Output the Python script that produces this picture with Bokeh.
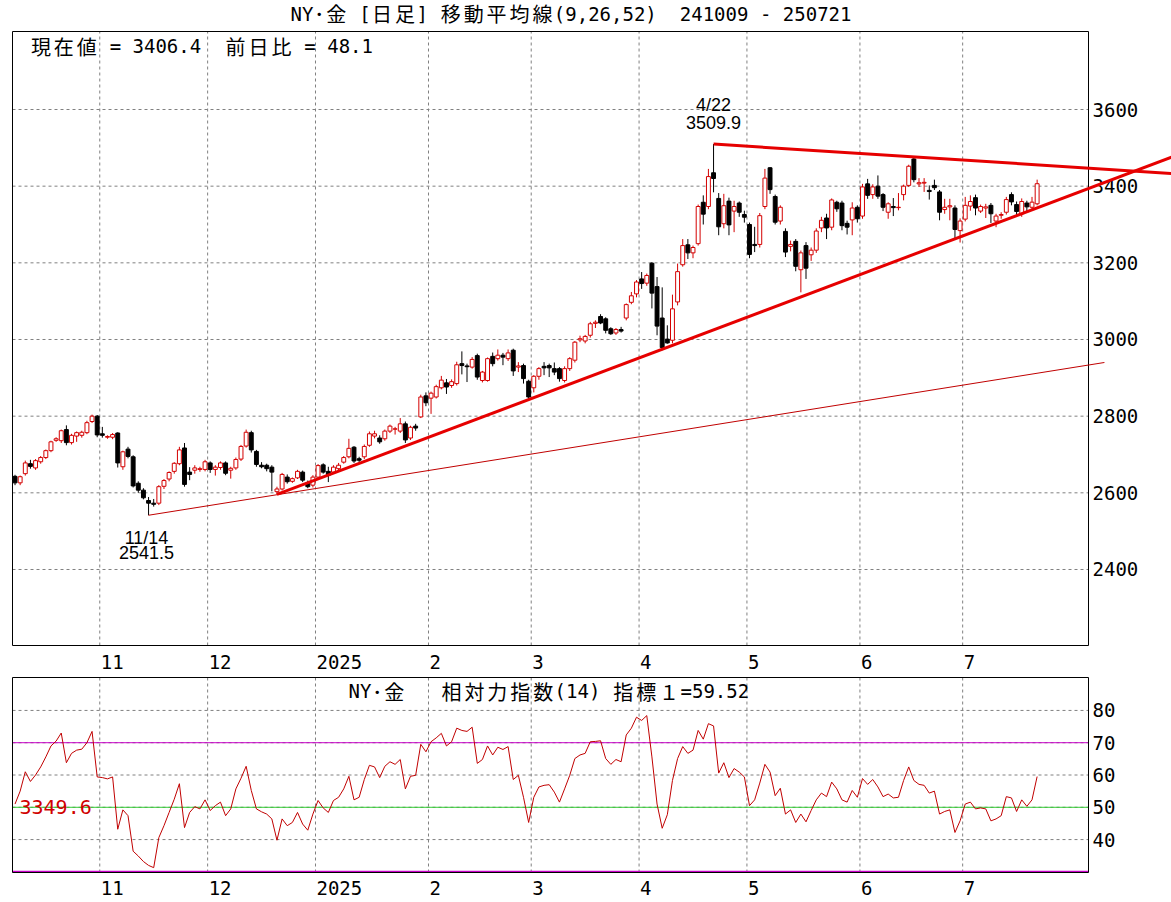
import pandas as pd
from bokeh.plotting import figure
from bokeh.layouts import column
from bokeh.models import Range1d, FixedTicker, Label, ColumnDataSource
from bokeh.core.properties import value
from bokeh.embed import file_html
from bokeh.resources import INLINE

# ---------------- data ----------------
START, END = "2024-10-09", "2025-07-21"
HOLIDAYS = ["2024-12-25", "2025-01-01", "2025-04-18", "2025-06-19"]

opens = [
    2643, 2626, 2650, 2676, 2665, 2681, 2692, 2710, 2737, 2736,
    2765, 2731, 2748, 2750, 2757, 2786, 2800, 2754, 2745, 2745,
    2756, 2668, 2714, 2694, 2625, 2607, 2580, 2573, 2573, 2617,
    2636, 2656, 2676, 2717, 2654, 2659, 2661, 2661, 2678, 2661,
    2666, 2678, 2659, 2665, 2688, 2722, 2757, 2708, 2672, 2672,
    2667, 2603, 2610, 2641, 2630, 2639, 2654, 2626, 2620, 2641,
    2673, 2656, 2654, 2663, 2680, 2694, 2719, 2689, 2694, 2724,
    2748, 2743, 2741, 2761, 2766, 2761, 2780, 2743, 2774, 2798,
    2853, 2847, 2850, 2874, 2887, 2880, 2885, 2937, 2931, 2928,
    2958, 2893, 2893, 2956, 2950, 2959, 2950, 2972, 2928, 2932,
    2891, 2874, 2904, 2930, 2932, 2924, 2924, 2893, 2924, 2946,
    2999, 2996, 3011, 3042, 3060, 3054, 3028, 3017, 3026, 3056,
    3097, 3119, 3158, 3147, 3199, 3138, 3056, 3001, 2998, 3098,
    3195, 3247, 3226, 3250, 3358, 3347, 3435, 3368, 3302, 3361,
    3335, 3356, 3326, 3300, 3248, 3248, 3347, 3448, 3373, 3309,
    3282, 3243, 3256, 3182, 3245, 3221, 3233, 3291, 3317, 3293,
    3358, 3356, 3303, 3312, 3345, 3322, 3406, 3378, 3400, 3378,
    3332, 3347, 3344, 3378, 3402, 3471, 3406, 3408, 3389, 3402,
    3385, 3339, 3346, 3343, 3284, 3314, 3348, 3370, 3335, 3343,
    3350, 3309, 3324, 3332, 3378, 3352, 3328, 3356, 3345, 3354,
]
highs = [
    2647, 2645, 2684, 2686, 2688, 2696, 2713, 2736, 2745, 2765,
    2776, 2754, 2760, 2762, 2788, 2804, 2803, 2772, 2750, 2756,
    2758, 2710, 2720, 2698, 2630, 2612, 2589, 2584, 2620, 2636,
    2656, 2680, 2720, 2730, 2667, 2672, 2668, 2686, 2682, 2672,
    2682, 2682, 2668, 2692, 2725, 2765, 2762, 2712, 2680, 2676,
    2672, 2616, 2652, 2648, 2640, 2660, 2658, 2632, 2646, 2675,
    2677, 2668, 2672, 2678, 2696, 2741, 2722, 2694, 2726, 2760,
    2762, 2750, 2765, 2778, 2772, 2795, 2786, 2775, 2780, 2856,
    2862, 2864, 2882, 2905, 2897, 2896, 2942, 2969, 2937, 2954,
    2963, 2918, 2953, 2966, 2974, 2965, 2974, 2976, 2941, 2937,
    2895, 2907, 2928, 2941, 2937, 2940, 2928, 2930, 2954, 2996,
    3010, 3012, 3046, 3050, 3066, 3058, 3032, 3030, 3033, 3094,
    3124, 3155, 3176, 3172, 3202, 3163, 3136, 3037, 3117, 3198,
    3262, 3262, 3245, 3352, 3376, 3445, 3509.9, 3382, 3380, 3370,
    3362, 3360, 3336, 3305, 3294, 3330, 3445, 3450, 3378, 3350,
    3290, 3258, 3262, 3232, 3254, 3240, 3290, 3320, 3328, 3368,
    3362, 3362, 3310, 3358, 3350, 3406, 3419, 3405, 3428, 3382,
    3358, 3369, 3382, 3404, 3456, 3476, 3421, 3421, 3402, 3417,
    3390, 3367, 3367, 3350, 3316, 3372, 3376, 3378, 3352, 3354,
    3356, 3328, 3332, 3372, 3384, 3360, 3368, 3362, 3372, 3417,
]
lows = [
    2620, 2620, 2645, 2663, 2660, 2676, 2688, 2706, 2733, 2730,
    2724, 2726, 2733, 2744, 2753, 2782, 2745, 2744, 2741, 2740,
    2666, 2660, 2690, 2614, 2600, 2583, 2541.5, 2564, 2568, 2610,
    2630, 2650, 2672, 2616, 2633, 2650, 2655, 2656, 2652, 2645,
    2660, 2646, 2637, 2660, 2683, 2718, 2705, 2668, 2664, 2656,
    2604, 2596, 2606, 2624, 2626, 2636, 2628, 2612, 2614, 2636,
    2650, 2628, 2650, 2658, 2676, 2690, 2678, 2680, 2688, 2720,
    2742, 2728, 2736, 2756, 2752, 2756, 2730, 2738, 2762, 2795,
    2826, 2806, 2846, 2870, 2858, 2874, 2880, 2909, 2889, 2924,
    2895, 2888, 2890, 2930, 2945, 2933, 2944, 2905, 2915, 2885,
    2844, 2862, 2895, 2907, 2902, 2907, 2890, 2888, 2918, 2940,
    2993, 2990, 3005, 3030, 3040, 3016, 3012, 3012, 3018, 3050,
    3092, 3110, 3132, 3140, 3081, 3011, 2972, 2989, 2990, 3089,
    3190, 3210, 3212, 3245, 3300, 3340, 3384, 3272, 3290, 3272,
    3280, 3320, 3305, 3212, 3228, 3240, 3340, 3380, 3300, 3300,
    3215, 3230, 3178, 3123, 3158, 3205, 3226, 3280, 3262, 3285,
    3333, 3285, 3274, 3272, 3305, 3315, 3367, 3367, 3367, 3335,
    3315, 3322, 3337, 3363, 3398, 3410, 3398, 3385, 3365, 3390,
    3311, 3328, 3311, 3263, 3253, 3308, 3336, 3324, 3330, 3317,
    3304, 3293, 3315, 3326, 3350, 3324, 3320, 3330, 3338, 3350,
]
closes = [
    2626, 2642, 2678, 2669, 2684, 2692, 2710, 2733, 2741, 2762,
    2731, 2750, 2757, 2758, 2783, 2800, 2751, 2750, 2747, 2752,
    2678, 2707, 2695, 2618, 2607, 2587, 2573, 2570, 2616, 2632,
    2653, 2677, 2712, 2622, 2648, 2665, 2663, 2681, 2661, 2667,
    2678, 2651, 2664, 2687, 2721, 2758, 2712, 2674, 2668, 2663,
    2654, 2610, 2648, 2629, 2637, 2656, 2633, 2616, 2641, 2671,
    2654, 2646, 2667, 2672, 2692, 2716, 2683, 2685, 2721, 2754,
    2754, 2733, 2761, 2774, 2767, 2780, 2738, 2771, 2769, 2850,
    2835, 2860, 2877, 2894, 2876, 2890, 2934, 2932, 2929, 2948,
    2902, 2915, 2950, 2937, 2959, 2954, 2965, 2918, 2931, 2898,
    2850, 2904, 2924, 2926, 2926, 2915, 2898, 2924, 2950, 2993,
    3002, 3008, 3041, 3045, 3043, 3024, 3015, 3026, 3022, 3091,
    3114, 3150, 3146, 3167, 3121, 3035, 2979, 2991, 3080, 3177,
    3245, 3226, 3240, 3347, 3327, 3425, 3420, 3294, 3349, 3299,
    3347, 3332, 3319, 3222, 3245, 3323, 3421, 3391, 3306, 3345,
    3228, 3248, 3191, 3226, 3186, 3233, 3283, 3311, 3291, 3364,
    3341, 3297, 3293, 3343, 3315, 3398, 3376, 3398, 3374, 3345,
    3354, 3344, 3345, 3400, 3452, 3417, 3409, 3410, 3386, 3396,
    3332, 3345, 3349, 3287, 3309, 3350, 3360, 3343, 3347, 3346,
    3328, 3322, 3326, 3365, 3359, 3334, 3360, 3346, 3358.3, 3406.4,
]
rsi = [
    51.0, 55.0, 61.0, 58.0, 60.0, 62.5, 65.6, 69.0, 70.5, 73.0,
    63.8, 66.7, 67.7, 68.0, 70.0, 73.5, 59.4, 59.2, 58.8, 59.4,
    43.2, 49.2, 47.4, 36.4, 34.9, 33.2, 32.0, 31.3, 40.6, 44.3,
    48.4, 52.5, 57.3, 43.7, 48.4, 50.2, 49.5, 52.3, 49.0, 50.5,
    51.6, 47.4, 49.5, 55.7, 59.0, 62.7, 55.2, 49.5, 48.6, 47.9,
    46.4, 39.8, 46.4, 44.3, 45.3, 48.4, 44.8, 42.9, 47.9, 52.1,
    49.8, 48.4, 52.1, 53.1, 55.7, 59.6, 52.3, 53.1, 58.6, 63.0,
    62.5, 59.2, 62.7, 64.1, 63.3, 64.8, 55.7, 59.6, 59.9, 69.5,
    67.2, 70.3, 71.5, 72.9, 69.0, 70.3, 74.5, 73.8, 73.5, 74.8,
    63.6, 64.8, 69.0, 66.2, 68.6, 67.9, 68.8, 58.6, 59.9, 53.1,
    45.3, 53.1, 56.3, 56.8, 57.0, 54.7, 51.6, 55.7, 59.9, 65.1,
    66.2, 66.7, 70.3, 70.4, 70.6, 65.1, 63.3, 64.8, 64.1, 72.4,
    74.5, 77.9, 76.9, 78.4, 65.6, 51.0, 43.5, 47.7, 58.3, 65.1,
    68.8, 66.7, 67.7, 73.8, 71.1, 75.9, 75.2, 60.6, 63.8, 59.2,
    62.0, 60.9, 59.4, 50.5, 52.3, 57.5, 63.3, 60.9, 53.6, 55.9,
    47.9, 49.2, 45.3, 47.9, 45.5, 49.0, 52.3, 54.4, 53.3, 57.8,
    55.7, 52.3, 51.6, 55.2, 53.1, 58.9, 57.1, 58.6, 56.3, 53.3,
    54.1, 52.9, 53.1, 58.3, 62.5, 58.3, 57.1, 56.8, 54.4, 55.0,
    47.9, 48.7, 49.2, 42.2, 45.8, 51.0, 51.6, 49.5, 49.8, 49.5,
    45.8, 46.4, 47.4, 53.3, 52.9, 48.7, 52.3, 50.3, 52.3, 59.52,
]

# trend lines (anchor points: bar index, price)
lower_trend_x, lower_trend_y = [51, 227], [2596.0, 3484.8]
upper_trend_x, upper_trend_y = [136, 227], [3509.9, 3431.6]
support_x, support_y = [26, 212.1], [2541.5, 2940.0]

price_ticks = [2400, 2600, 2800, 3000, 3200, 3400, 3600]
rsi_ticks = [40, 50, 60, 70, 80]
rsi_over, rsi_mid, rsi_under = 70, 50, 30

title_text = "NY･金 [日足] 移動平均線(9,26,52)  241009 - 250721"
info_text = "現在値 = 3406.4  前日比 = 48.1"
rsi_title = "NY･金   相対力指数(14) 指標１=59.52"
cursor_text = "3349.6"
high_label = ("4/22", "3509.9")
low_label = ("11/14", "2541.5")

# ---------------- layout constants (pixels) ----------------
W = 1171
BOX_L, BOX_R = -0.49, 209.0          # bar-index edges of the chart boxes
BOX_PX_L, BOX_PX_R = 12, 1088
PX = (BOX_PX_R - BOX_PX_L) / (BOX_R - BOX_L)   # pixels per bar
F_L = 11                              # frames start 1px left of the boxes, end at canvas edge
X_MIN = BOX_L - (BOX_PX_L - F_L) / PX
X_MAX = BOX_L + (W - BOX_PX_L) / PX

BOX_TOP, BOX_BOT = 3803.5, 2201.7    # price edges of the main box
BOX_PY_T, BOX_PY_B = 31, 645
PY = (BOX_TOP - BOX_BOT) / (BOX_PY_B - BOX_PY_T)  # price per pixel
F1_B = 646                            # main frame spans y 0..646
Y1_MAX = BOX_TOP + BOX_PY_T * PY
Y1_MIN = BOX_BOT - (F1_B - BOX_PY_B) * PY
H1 = F1_B + 30

R_TOP_PX, R_BOT_PX = 677, 872        # RSI box
R_MIN, R_MAX = 29.8, 90.2
RPY = (R_MAX - R_MIN) / (R_BOT_PX - R_TOP_PX)
F2_T, F2_B = H1, 873                  # RSI frame spans y 676..873
R_FMAX = R_MAX + (R_TOP_PX - F2_T) * RPY
R_FMIN = R_MIN - (F2_B - R_BOT_PX) * RPY
H2 = 902 - H1

RED = "#d40000"
LINE_RED = "#e60000"
GRID = "#808080"
JP = "Noto Sans CJK JP"
NUM = "DejaVu Sans Mono"
UNIT = 11.45   # half-width character cell
BASE_FIX = 8   # alphabetic baseline correction of the renderer


def xp(px):
    return X_MIN + (px - F_L) / PX


def y1(py):
    return Y1_MAX - (py - BASE_FIX) * PY


def y2(py):
    return R_FMAX - (py - BASE_FIX - F2_T) * RPY


def put_mono(p, y, px0, s, color="black", a_size="19px", w_size="20px"):
    """Lay a string out on a fixed half-width grid, like the original screen font."""
    u = 0
    run, run_u0 = "", 0
    items = []
    for ch in s:
        o = ord(ch)
        if o < 128 and ch != " ":
            if not run:
                run_u0 = u
            run += ch
            u += 1
            continue
        if run:
            items.append(("a", run, run_u0))
            run = ""
        if ch == " ":
            u += 1
        elif ch == "\u3000":
            u += 2
        else:
            w = 1 if 0xFF61 <= o <= 0xFF9F else 2
            items.append(("w", ch, u + w / 2))
            u += w
    if run:
        items.append(("a", run, run_u0))
    for kind, t, pos in items:
        if kind == "a":
            p.add_layout(Label(x=xp(px0 + pos * UNIT), y=y, text=t, text_align="left",
                               text_baseline="alphabetic", text_font=NUM,
                               text_font_size=a_size, text_color=color))
        else:
            p.add_layout(Label(x=xp(px0 + pos * UNIT), y=y, text=t, text_align="center",
                               text_baseline="alphabetic", text_font=JP,
                               text_font_size=w_size, text_color=color))


dates = pd.bdate_range(START, END)
dates = dates[~dates.isin(pd.to_datetime(HOLIDAYS))]
n = len(closes)
idx = list(range(n))

bounds, labels = [], []
for i in range(1, min(n, len(dates))):
    if dates[i].month != dates[i - 1].month:
        bounds.append(i - 0.5)
        labels.append("2025" if dates[i].month == 1 else str(dates[i].month))
label_pos = [round(b + (1 + 5.72 * len(l)) / PX, 3) for b, l in zip(bounds, labels)]
overrides = {p: l for p, l in zip(label_pos, labels)}

inc = [i for i in idx if closes[i] >= opens[i]]
dec = [i for i in idx if closes[i] < opens[i]]


def src(ids):
    return ColumnDataSource(dict(
        x=ids,
        top=[max(opens[i], closes[i]) for i in ids],
        bottom=[min(opens[i], closes[i]) for i in ids],
        high=[highs[i] for i in ids],
        low=[lows[i] for i in ids],
    ))


def base_fig(height, y_range, bottom):
    p = figure(width=W, height=height, x_range=Range1d(X_MIN, X_MAX), y_range=y_range,
               y_axis_location=None, output_backend="svg", toolbar_location=None,
               min_border_left=F_L, min_border_right=0, min_border_top=0, min_border_bottom=bottom)
    p.outline_line_color = None
    p.background_fill_color = "white"
    p.border_fill_color = "white"
    p.grid.visible = False
    return p


def style_xaxis(p, standoff):
    p.xaxis.ticker = FixedTicker(ticks=label_pos)
    p.xaxis.major_label_overrides = overrides
    p.xaxis.major_label_standoff = standoff
    for ax in p.axis:
        ax.axis_line_color = None
        ax.major_tick_line_color = None
        ax.minor_tick_line_color = None
        ax.major_label_text_font = NUM
        ax.major_label_text_font_size = "19px"
        ax.major_label_text_color = "black"


def box_and_grid(p, yticks, ylo, yhi):
    p.segment(x0=BOX_L, x1=BOX_R, y0=yticks, y1=yticks,
              line_color=GRID, line_dash="3 3", line_width=1)
    p.segment(x0=bounds, x1=bounds, y0=ylo, y1=yhi,
              line_color=GRID, line_dash="3 3", line_width=1)
    p.text(x=BOX_R + 4 / PX, y=yticks, text=[str(t) for t in yticks],
           text_align="left", text_baseline="middle", text_font=value(NUM),
           text_font_size="19px", text_color="black")


def box_outline(p, ylo, yhi):
    p.quad(left=BOX_L, right=BOX_R, top=yhi, bottom=ylo,
           fill_color=None, line_color="black", line_width=1)


# ---------------- main price panel ----------------
p1 = base_fig(H1, Range1d(Y1_MIN, Y1_MAX), H1 - F1_B)
style_xaxis(p1, 2)
box_and_grid(p1, price_ticks, BOX_BOT, BOX_TOP)

s_inc, s_dec = src(inc), src(dec)
p1.segment(x0="x", y0="low", x1="x", y1="high", source=s_inc, line_color=RED, line_width=1)
p1.vbar(x="x", width=0.76, top="top", bottom="bottom", source=s_inc,
        fill_color="white", line_color=RED, line_width=1)
p1.segment(x0="x", y0="low", x1="x", y1="high", source=s_dec, line_color="black", line_width=1)
p1.vbar(x="x", width=0.76, top="top", bottom="bottom", source=s_dec,
        fill_color="black", line_color="black", line_width=1)
box_outline(p1, BOX_BOT, BOX_TOP)

p1.line(support_x, support_y, line_color="#c00000", line_width=1)
p1.line(lower_trend_x, lower_trend_y, line_color=LINE_RED, line_width=3)
p1.line(upper_trend_x, upper_trend_y, line_color=LINE_RED, line_width=3)

put_mono(p1, y1(21), 290, title_text)
put_mono(p1, y1(53.5), 29, info_text)
for t, yy in ((high_label[0], 3613.0), (high_label[1], 3566.1)):
    p1.add_layout(Label(x=136, y=yy, text=t, text_align="center", text_baseline="middle",
                        text_font="Liberation Sans", text_font_size="18px", text_color="black"))
for t, yy in ((low_label[0], 2481.3), (low_label[1], 2444.8)):
    p1.add_layout(Label(x=25.6, y=yy, text=t, text_align="center", text_baseline="middle",
                        text_font="Liberation Sans", text_font_size="18px", text_color="black"))

# ---------------- RSI panel ----------------
p2 = base_fig(H2, Range1d(R_FMIN, R_FMAX), H2 - (F2_B - F2_T))
style_xaxis(p2, 1)
box_and_grid(p2, rsi_ticks, R_MIN, R_MAX)
p2.segment(x0=BOX_L, x1=BOX_R, y0=rsi_over, y1=rsi_over, line_color="#c800c8", line_width=1)
p2.segment(x0=BOX_L, x1=BOX_R, y0=rsi_under, y1=rsi_under, line_color="#c800c8", line_width=2)
p2.segment(x0=BOX_L, x1=BOX_R, y0=rsi_mid, y1=rsi_mid, line_color="#33cc33", line_width=1)
p2.line(idx, rsi, line_color="#c00000", line_width=1)
box_outline(p2, R_MIN, R_MAX)

put_mono(p2, y2(698.5), 348, rsi_title)
p2.add_layout(Label(x=xp(19), y=50, text=cursor_text, text_align="left", text_baseline="middle",
                    text_font=NUM, text_font_size="20px", text_color="#d00000"))

layout = column(p1, p2, spacing=0)
open("out.html", "w").write(file_html(layout, INLINE))
